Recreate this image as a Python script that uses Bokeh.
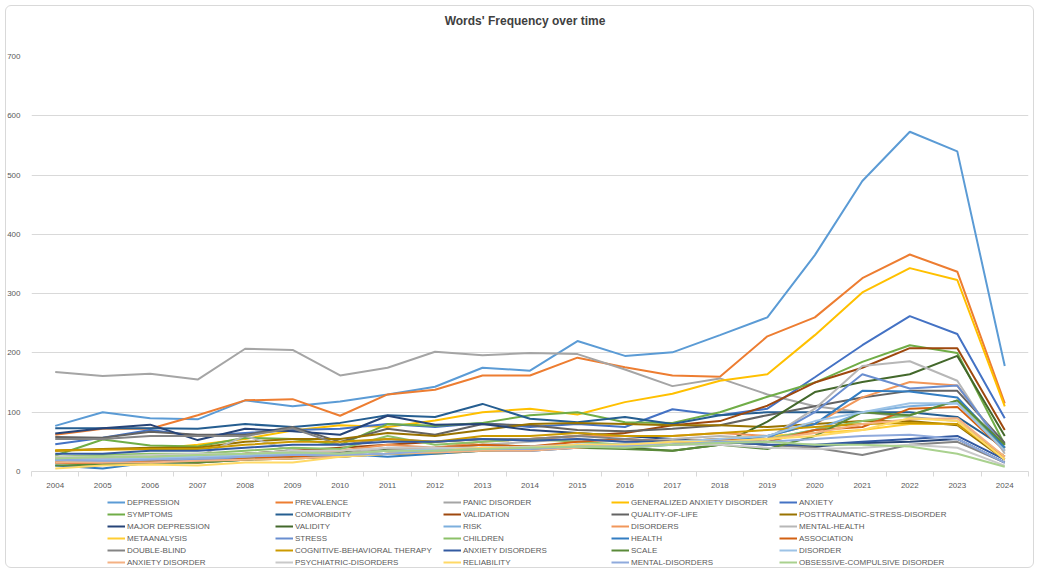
from bokeh.plotting import figure
from bokeh.layouts import column
from bokeh.models import Range1d, FixedTicker, Legend, LegendItem, InlineStyleSheet
from bokeh.core.properties import value
from bokeh.embed import file_html
from bokeh.resources import INLINE

title_text = "Words' Frequency over time"
years = list(range(2004, 2025))
year_labels = [str(y) for y in years]
y_ticks = [0, 100, 200, 300, 400, 500, 600, 700]

depression = [77, 100, 90, 88, 120, 110, 118, 130, 143, 175, 170, 220, 195, 201, 230, 260, 365, 490, 573, 540, 178]
prevalence = [62, 72, 72, 95, 120, 122, 94, 130, 138, 162, 162, 192, 176, 162, 160, 228, 260, 326, 366, 337, 115]
panic_disorder = [168, 161, 165, 155, 207, 205, 162, 175, 202, 196, 200, 198, 172, 144, 157, 130, 110, 100, 92, 85, 25]
generalized_anxiety_disorder = [36, 37, 38, 45, 55, 69, 78, 75, 86, 100, 106, 96, 117, 131, 153, 164, 230, 302, 343, 323, 110]
anxiety = [46, 57, 70, 60, 65, 70, 72, 80, 75, 82, 75, 80, 75, 105, 95, 106, 159, 213, 262, 232, 90]
symptoms = [27, 54, 44, 42, 57, 55, 45, 80, 77, 82, 95, 100, 83, 82, 100, 126, 150, 185, 213, 200, 45]
comorbidity = [73, 73, 73, 72, 80, 75, 82, 95, 92, 114, 89, 83, 92, 80, 95, 100, 100, 100, 100, 92, 40]
validation = [20, 22, 25, 25, 30, 35, 40, 45, 50, 55, 55, 60, 65, 78, 85, 111, 150, 175, 208, 208, 70]
quality_of_life = [58, 57, 67, 62, 62, 75, 50, 72, 62, 80, 78, 70, 68, 72, 78, 95, 110, 125, 136, 136, 48]
posttraumatic_stress_disorder = [35, 38, 40, 40, 50, 55, 55, 65, 60, 70, 80, 82, 80, 78, 78, 75, 80, 85, 85, 78, 20]
major_depression = [64, 73, 79, 53, 72, 68, 62, 94, 79, 80, 70, 65, 60, 55, 50, 45, 42, 48, 50, 55, 15]
validity = [20, 22, 25, 28, 30, 35, 32, 38, 40, 45, 42, 45, 40, 35, 45, 84, 134, 151, 164, 195, 60]
risk = [20, 18, 20, 22, 25, 28, 30, 35, 35, 40, 40, 45, 45, 50, 55, 55, 70, 100, 110, 115, 35]
disorders = [25, 20, 25, 25, 30, 30, 35, 45, 40, 50, 55, 60, 60, 60, 65, 60, 80, 125, 151, 145, 40]
mental_health = [20, 22, 25, 25, 60, 35, 30, 40, 40, 45, 50, 55, 50, 55, 60, 55, 106, 178, 186, 153, 30]
metaanalysis = [15, 15, 15, 15, 20, 22, 25, 30, 30, 35, 38, 40, 45, 50, 55, 60, 65, 70, 80, 80, 25]
stress = [15, 15, 18, 20, 22, 25, 25, 30, 32, 35, 35, 40, 40, 45, 50, 55, 100, 164, 140, 145, 40]
children = [25, 28, 30, 30, 35, 40, 38, 60, 45, 50, 55, 50, 45, 45, 50, 55, 70, 85, 95, 120, 40]
health = [10, 5, 15, 15, 20, 25, 30, 25, 30, 35, 35, 40, 45, 45, 50, 60, 80, 136, 135, 125, 40]
association = [15, 12, 18, 15, 22, 25, 30, 35, 40, 45, 42, 50, 55, 50, 55, 50, 70, 75, 106, 109, 35]
double_blind = [55, 55, 60, 60, 60, 73, 45, 55, 50, 55, 55, 60, 55, 50, 50, 45, 40, 28, 45, 50, 15]
cognitive_behavioral_therapy = [35, 37, 38, 38, 45, 50, 50, 55, 50, 60, 60, 65, 60, 60, 65, 70, 75, 80, 82, 80, 25]
anxiety_disorders = [30, 30, 35, 35, 40, 45, 45, 50, 50, 55, 52, 55, 50, 50, 50, 45, 45, 50, 55, 60, 20]
scale = [10, 12, 15, 15, 20, 22, 25, 30, 32, 35, 38, 40, 38, 35, 45, 38, 60, 100, 95, 120, 45]
disorder = [20, 20, 22, 25, 28, 30, 30, 35, 38, 40, 40, 45, 45, 50, 55, 60, 85, 100, 115, 115, 35]
anxiety_disorder = [15, 15, 15, 18, 20, 22, 25, 30, 32, 35, 35, 40, 45, 45, 50, 55, 65, 80, 88, 90, 25]
psychiatric_disorders = [25, 25, 28, 30, 30, 35, 35, 40, 40, 40, 42, 45, 45, 45, 45, 40, 38, 40, 45, 40, 10]
reliability = [5, 10, 12, 10, 15, 15, 25, 30, 35, 40, 40, 45, 45, 50, 50, 55, 60, 70, 90, 85, 20]
mental_disorders = [20, 18, 20, 22, 25, 28, 28, 30, 35, 38, 38, 42, 42, 45, 50, 50, 55, 60, 62, 55, 15]
obsessive_compulsive_disorder = [22, 25, 25, 28, 30, 32, 30, 35, 35, 38, 40, 42, 40, 45, 48, 50, 45, 45, 42, 30, 8]

series = [
    ("DEPRESSION", depression, "#5B9BD5"),
    ("PREVALENCE", prevalence, "#ED7D31"),
    ("PANIC DISORDER", panic_disorder, "#A5A5A5"),
    ("GENERALIZED ANXIETY DISORDER", generalized_anxiety_disorder, "#FFC000"),
    ("ANXIETY", anxiety, "#4472C4"),
    ("SYMPTOMS", symptoms, "#70AD47"),
    ("COMORBIDITY", comorbidity, "#255E91"),
    ("VALIDATION", validation, "#9E480E"),
    ("QUALITY-OF-LIFE", quality_of_life, "#636363"),
    ("POSTTRAUMATIC-STRESS-DISORDER", posttraumatic_stress_disorder, "#997300"),
    ("MAJOR DEPRESSION", major_depression, "#264478"),
    ("VALIDITY", validity, "#43682B"),
    ("RISK", risk, "#7CAFDD"),
    ("DISORDERS", disorders, "#F1975A"),
    ("MENTAL-HEALTH", mental_health, "#B7B7B7"),
    ("METAANALYSIS", metaanalysis, "#FFCD33"),
    ("STRESS", stress, "#698ED0"),
    ("CHILDREN", children, "#8CC168"),
    ("HEALTH", health, "#327DC2"),
    ("ASSOCIATION", association, "#D26012"),
    ("DOUBLE-BLIND", double_blind, "#848484"),
    ("COGNITIVE-BEHAVIORAL THERAPY", cognitive_behavioral_therapy, "#CC9A00"),
    ("ANXIETY DISORDERS", anxiety_disorders, "#335AA1"),
    ("SCALE", scale, "#5A8A39"),
    ("DISORDER", disorder, "#9DC3E6"),
    ("ANXIETY DISORDER", anxiety_disorder, "#F4B183"),
    ("PSYCHIATRIC-DISORDERS", psychiatric_disorders, "#C9C9C9"),
    ("RELIABILITY", reliability, "#FFD966"),
    ("MENTAL-DISORDERS", mental_disorders, "#8FAADC"),
    ("OBSESSIVE-COMPULSIVE DISORDER", obsessive_compulsive_disorder, "#A9D18E"),
]

FONT = "Liberation Sans"
TXT = "#595959"
GRID = "#D9D9D9"


def bare(fig):
    fig.outline_line_color = None
    fig.xgrid.visible = False
    fig.ygrid.visible = False
    fig.background_fill_color = "white"
    fig.border_fill_color = "white"


# title strip
tf = figure(width=1039, height=48, output_backend="svg", toolbar_location=None,
            x_range=Range1d(0, 1), y_range=Range1d(0, 48),
            x_axis_type=None, y_axis_type=None,
            min_border_left=0, min_border_right=0, min_border_top=0, min_border_bottom=0)
bare(tf)
tf.text(x=[0.495], y=[28], text=[title_text], text_font=value(FONT), text_font_size="12px",
        text_font_style="bold", text_color="#404040", text_align="center", text_baseline="middle")

# main chart
p = figure(width=1039, height=442, output_backend="svg", toolbar_location=None,
           x_range=Range1d(2003.5, 2024.5), y_range=Range1d(0, 700),
           min_border_left=31, min_border_right=11, min_border_top=8, min_border_bottom=17)
p.outline_line_color = None
p.background_fill_color = "white"
p.border_fill_color = "white"

p.xgrid.visible = False
p.ygrid.grid_line_color = GRID
p.ygrid.grid_line_width = 1
p.ygrid.ticker = FixedTicker(ticks=y_ticks)

p.yaxis.ticker = FixedTicker(ticks=y_ticks)
p.yaxis.axis_line_color = None
p.yaxis.major_tick_line_color = None
p.yaxis.minor_tick_line_color = None
p.yaxis.major_label_text_font = FONT
p.yaxis.major_label_text_font_size = "8px"
p.yaxis.major_label_text_color = TXT
p.yaxis.major_label_standoff = 5

p.xaxis.ticker = FixedTicker(ticks=years, minor_ticks=[y - 0.5 for y in years] + [years[-1] + 0.5])
p.xaxis.major_label_overrides = {y: lab for y, lab in zip(years, year_labels)}
p.xaxis.axis_line_color = GRID
p.xaxis.major_tick_line_color = None
p.xaxis.minor_tick_line_color = GRID
p.xaxis.minor_tick_in = 0
p.xaxis.minor_tick_out = 5
p.xaxis.major_tick_out = 0
p.xaxis.major_tick_in = 0
p.xaxis.major_label_text_font = FONT
p.xaxis.major_label_text_font_size = "8px"
p.xaxis.major_label_text_color = TXT
p.xaxis.major_label_standoff = 6

for name, vals, color in series:
    p.line(years, vals, line_color=color, line_width=2)

# legend strip
lg = figure(width=1039, height=83, output_backend="svg", toolbar_location=None,
            x_range=Range1d(0, 1), y_range=Range1d(0, 1),
            x_axis_type=None, y_axis_type=None,
            min_border_left=0, min_border_right=0, min_border_top=0, min_border_bottom=0)
bare(lg)

items = []
for name, vals, color in series:
    r = lg.line(x=[-5, -4], y=[-5, -4], line_color=color, line_width=2)
    items.append(LegendItem(label=name, renderers=[r]))

legend = Legend(items=items, orientation="horizontal", ncols=5,
                label_text_font=FONT, label_text_font_size="8px", label_text_color=TXT,
                glyph_width=18, glyph_height=12, label_height=12, label_width=148,
                label_standoff=2, spacing=0, padding=0, margin=0,
                border_line_color=None, background_fill_alpha=0, location=(76, 5))
lg.add_layout(legend, "center")

layout = column(tf, p, lg, spacing=0)
frame_css = InlineStyleSheet(css=(
    ":host::after { content: ''; position: absolute; left: 5px; top: 5px; right: 5px; bottom: 5px;"
    " border: 1px solid #D9D9D9; border-radius: 6px; pointer-events: none; z-index: 100; }"
))
layout.stylesheets = [frame_css]
open("out.html", "w").write(file_html(layout, INLINE))
